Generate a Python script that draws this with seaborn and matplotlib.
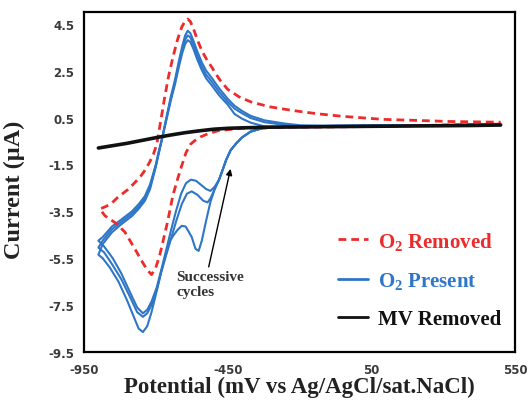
import matplotlib
matplotlib.use("Agg")
import matplotlib.pyplot as plt
from matplotlib.lines import Line2D
import numpy as np
import pandas as pd
import seaborn as sns

# ---------------- data ----------------
# O2 removed (red dashed): cathodic branch 500 -> -900, then anodic -900 -> 500
RED_CATH_X = [500, 300, 100, -100, -300, -400, -450, -485, -520, -545, -565, -580, -595,
              -610, -625, -641, -650, -662, -686, -700, -715, -730, -750, -773, -808, -840,
              -877, -895]
RED_CATH_Y = [0.22, 0.18, 0.12, 0.1, 0.08, 0.04, -0.02, -0.07, -0.2, -0.33, -0.49, -0.65,
              -1.0, -1.56, -2.15, -2.84, -3.4, -4.1, -5.35, -5.9, -6.2, -6.0, -5.6, -5.1,
              -4.38, -4.0, -3.69, -3.4]
RED_ANOD_X = [-895, -875, -856, -832, -800, -775, -752, -735, -721, -708, -697, -683, -669,
              -655, -640, -625, -610, -598, -589, -580, -568, -555, -540, -522, -506, -480,
              -450, -410, -370, -346, -300, -250, -200, -138, -50, 92, 200, 324, 500]
RED_ANOD_Y = [-3.4, -3.3, -3.18, -2.9, -2.6, -2.3, -1.99, -1.7, -1.39, -1.05, -0.65, 0.35,
              1.38, 2.3, 3.1, 3.8, 4.35, 4.62, 4.7, 4.6, 4.25, 3.8, 3.35, 2.95, 2.66, 2.15,
              1.7, 1.38, 1.17, 1.09, 0.95, 0.85, 0.76, 0.66, 0.55, 0.42, 0.38, 0.33, 0.3]

# O2 present (blue), three successive cycles
BLUE_HEAD_X = [500, 300, 100, -100, -250, -330, -370, -400, -420, -440, -455, -468, -480]
BLUE_HEAD_Y = [0.2, 0.18, 0.16, 0.14, 0.1, 0.04, -0.1, -0.35, -0.6, -0.9, -1.3, -1.75, -2.15]

C1_TAIL_X = [-495, -510, -525, -540, -551, -562, -575, -596, -610, -625, -640, -650, -665,
             -680, -697, -715, -730, -745, -760, -780, -800, -830, -860, -885, -900]
C1_TAIL_Y = [-2.55, -3.1, -3.9, -4.75, -5.19, -5.1, -4.6, -4.15, -4.12, -4.3, -4.55, -4.75,
             -5.35, -6.0, -6.9, -7.8, -8.4, -8.65, -8.5, -7.9, -7.3, -6.5, -5.9, -5.5, -5.35]
C2_TAIL_X = [-495, -510, -520, -535, -555, -575, -592, -610, -630, -648, -665, -680, -697,
             -715, -730, -745, -765, -790, -820, -850, -880, -900]
C2_TAIL_Y = [-2.55, -2.95, -3.12, -3.05, -2.8, -2.65, -2.75, -3.2, -3.95, -4.7, -5.4, -6.05,
             -6.85, -7.5, -7.85, -8.0, -7.8, -7.15, -6.4, -5.8, -5.25, -5.05]
C3_TAIL_X = [-495, -510, -525, -545, -560, -578, -595, -612, -630, -648, -665, -680, -697,
             -715, -730, -745, -765, -790, -820, -850, -880, -900]
C3_TAIL_Y = [-2.45, -2.63, -2.55, -2.35, -2.2, -2.15, -2.3, -2.75, -3.5, -4.35, -5.2, -5.95,
             -6.75, -7.35, -7.7, -7.85, -7.6, -6.95, -6.15, -5.5, -5.0, -4.75]

BLUE_ANOD_X = [-900, -885, -853, -820, -783, -760, -738, -720, -700, -690, -679, -665, -648,
               -634, -620, -608, -598, -589, -580, -570, -555, -540, -525, -506, -480, -450,
               -426, -400, -370, -322, -250, -197, -100, 0, 200, 500]
C1_ANOD_Y = [-5.35, -4.9, -4.4, -4.05, -3.7, -3.4, -3.05, -2.55, -1.6, -1.05, -0.45, 0.4,
             1.38, 2.07, 2.9, 3.55, 4.0, 4.2, 4.1, 3.8, 3.3, 2.85, 2.5, 2.2, 1.75, 1.3, 1.0,
             0.78, 0.57, 0.38, 0.24, 0.17, 0.15, 0.15, 0.17, 0.2]
C2_ANOD_Y = [-5.05, -4.75, -4.27, -3.95, -3.6, -3.3, -2.95, -2.45, -1.55, -1.0, -0.45, 0.35,
             1.3, 1.98, 2.78, 3.4, 3.82, 4.0, 3.92, 3.62, 3.12, 2.68, 2.33, 2.04, 1.6, 1.17,
             0.88, 0.68, 0.48, 0.3, 0.18, 0.13, 0.12, 0.13, 0.16, 0.19]
C3_ANOD_Y = [-4.75, -4.6, -4.15, -3.85, -3.5, -3.2, -2.85, -2.35, -1.5, -0.95, -0.42, 0.3,
             1.22, 1.88, 2.65, 3.25, 3.63, 3.8, 3.72, 3.45, 2.95, 2.52, 2.17, 1.88, 1.45,
             1.05, 0.65, 0.45, 0.28, 0.12, 0.08, 0.08, 0.1, 0.12, 0.15, 0.18]

# MV removed (black)
BLACK_X = [-900, -850, -800, -750, -700, -650, -600, -550, -500, -450, -400, -300, -200,
           -100, 0, 100, 200, 300, 400, 500]
BLACK_Y = [-0.8, -0.7, -0.6, -0.48, -0.36, -0.25, -0.15, -0.07, 0.0, 0.04, 0.06, 0.09, 0.1,
           0.11, 0.12, 0.13, 0.14, 0.15, 0.16, 0.18]

X_TICKS = [-950, -450, 50, 550]
Y_TICKS = [4.5, 2.5, 0.5, -1.5, -3.5, -5.5, -7.5, -9.5]
LEGEND_LABELS = ["O$_\\mathrm{2}$ Removed", "O$_\\mathrm{2}$ Present", "MV Removed"]

# ---------------- styling ----------------
sns.set_style("white")
plt.rcParams["font.family"] = ["DejaVu Sans"]
plt.rcParams["mathtext.fontset"] = "custom"
plt.rcParams["mathtext.rm"] = "Liberation Serif:bold"
plt.rcParams["mathtext.it"] = "Liberation Serif:bold"
plt.rcParams["mathtext.bf"] = "Liberation Serif:bold"

RED = "#ee2b2b"
BLUE = "#2f76c6"
BLACK = "#111111"
SERIF = ["Liberation Serif", "DejaVu Serif"]

fig = plt.figure(figsize=(5.27, 4.02), dpi=100)
ax = fig.add_axes([84 / 527, 1 - 353 / 402, (515 - 84) / 527, (353 - 13) / 402])

def loop(xa, ya, xb, yb):
    return pd.DataFrame({"x": list(xa) + list(xb), "y": list(ya) + list(yb)})

blue_cycles = [
    loop(BLUE_HEAD_X + C1_TAIL_X, BLUE_HEAD_Y + C1_TAIL_Y, BLUE_ANOD_X, C1_ANOD_Y),
    loop(BLUE_HEAD_X + C2_TAIL_X, BLUE_HEAD_Y + C2_TAIL_Y, BLUE_ANOD_X, C2_ANOD_Y),
    loop(BLUE_HEAD_X + C3_TAIL_X, BLUE_HEAD_Y + C3_TAIL_Y, BLUE_ANOD_X, C3_ANOD_Y),
]
for df in blue_cycles:
    sns.lineplot(data=df, x="x", y="y", sort=False, estimator=None, color=BLUE,
                 lw=1.5, ax=ax, zorder=2)

red_df = loop(RED_CATH_X, RED_CATH_Y, RED_ANOD_X, RED_ANOD_Y)
sns.lineplot(data=red_df, x="x", y="y", sort=False, estimator=None, color=RED,
             lw=2.0, ax=ax, zorder=3, linestyle=(0, (2.8, 1.8)))

black_df = pd.DataFrame({"x": BLACK_X, "y": BLACK_Y})
sns.lineplot(data=black_df, x="x", y="y", sort=False, estimator=None, color=BLACK,
             lw=2.6, ax=ax, zorder=4)

ax.set_xlim(-950, 550)
ax.set_ylim(-9.5, 5.0)
ax.set_xticks(X_TICKS)
ax.set_yticks(Y_TICKS)
ax.set_xticklabels([str(v) for v in X_TICKS])
ax.set_yticklabels([str(v) for v in Y_TICKS])
ax.tick_params(axis="both", direction="out", length=4, width=1.2, color="black",
               labelsize=8.5, labelcolor="#3a3a3a")
ax.tick_params(axis="x", pad=4)
ax.tick_params(axis="y", pad=3)
for lab in ax.get_xticklabels() + ax.get_yticklabels():
    lab.set_fontweight("bold")
for side in ["left", "bottom", "top", "right"]:
    ax.spines[side].set_visible(True)
    ax.spines[side].set_color("black")
    ax.spines[side].set_linewidth(1.6)

ax.set_xlabel("Potential (mV vs Ag/AgCl/sat.NaCl)", family=SERIF, fontweight="bold",
              fontsize=16.5, color="#222222", labelpad=0)
ax.set_ylabel("Current (µA)", family=SERIF, fontweight="bold", fontsize=17.5,
              color="#222222", labelpad=6)
ax.yaxis.set_label_coords(-0.137, 0.48)

handles = [
    Line2D([], [], color=RED, lw=2.0, linestyle=(0, (2.8, 1.8))),
    Line2D([], [], color=BLUE, lw=2.0),
    Line2D([], [], color=BLACK, lw=2.0),
]
leg = ax.legend(handles, LEGEND_LABELS, loc="upper left", bbox_to_anchor=(0.59, 0.36),
                frameon=False, borderpad=0, borderaxespad=0, handlelength=1.45,
                handletextpad=0.45, labelspacing=0.88,
                prop={"family": SERIF, "weight": "bold", "size": 15})
for txt, col in zip(leg.get_texts(), [RED, BLUE, BLACK]):
    txt.set_color(col)

ax.annotate("", xy=(-440, -1.69), xytext=(-516, -5.87),
            arrowprops=dict(arrowstyle="-|>", color="black", lw=1.0,
                            mutation_scale=9, shrinkA=0, shrinkB=0))
ax.text(-628, -6.02, "Successive\ncycles", family=SERIF, fontweight="bold", fontsize=11,
        color="#333333", ha="left", va="top", linespacing=1.2)

fig.savefig("out.png", dpi=100)
